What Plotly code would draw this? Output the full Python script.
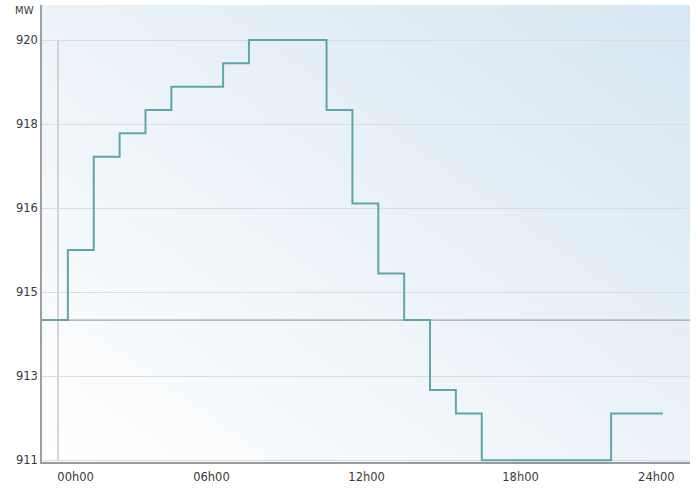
import base64
import plotly.graph_objects as go

# ---- data ----
hours = list(range(24))
mw = [914.0, 915.5, 917.5, 918.0, 918.5, 919.0, 919.0, 919.5, 920.0, 920.0,
      920.0, 918.5, 916.5, 915.0, 914.0, 912.5, 912.0, 911.0, 911.0, 911.0,
      911.0, 911.0, 912.0, 912.0]
x_tick_labels = ["00h00", "06h00", "12h00", "18h00", "24h00"]
x_tick_pos = [1.3, 6.55, 12.55, 18.5, 23.75]
y_tick_vals = [911.0, 912.8, 914.6, 916.4, 918.2, 920.0]
y_tick_labels = ["911", "913", "915", "916", "918", "920"]
ref_level = 914.0
cursor_hour = 0.62

# step line: close the last hour
xs = hours + [hours[-1] + 1]
ys = mw + [mw[-1]]

svg = ('<svg xmlns="http://www.w3.org/2000/svg" width="100" height="100" preserveAspectRatio="none">'
       '<defs><linearGradient id="g" x1="0" y1="1" x2="1" y2="0">'
       '<stop offset="0" stop-color="#ffffff"/><stop offset="0.45" stop-color="#eef4f9"/>'
       '<stop offset="1" stop-color="#d6e6f2"/></linearGradient></defs>'
       '<rect width="100" height="100" fill="url(#g)"/></svg>')
svg_uri = "data:image/svg+xml;base64," + base64.b64encode(svg.encode()).decode()

fig = go.Figure()
fig.add_trace(go.Scatter(x=xs, y=ys, mode="lines", line_shape="hv",
                         line=dict(color="#5ea7a8", width=2), hoverinfo="skip",
                         showlegend=False))

font = dict(family="DejaVu Sans, Verdana, sans-serif", size=11.5, color="#3a3a3a")

fig.update_layout(
    width=698, height=495,
    margin=dict(l=42, r=8, t=5, b=33),
    paper_bgcolor="white",
    plot_bgcolor="rgba(0,0,0,0)",
    font=font,
    images=[dict(source=svg_uri, xref="paper", yref="paper", x=0, y=1,
                 sizex=1, sizey=1, sizing="stretch", layer="below",
                 xanchor="left", yanchor="top")],
    xaxis=dict(range=[0, 25.05], tickvals=x_tick_pos, ticktext=x_tick_labels,
               showgrid=False, zeroline=False, showline=True, linecolor="#9a9a9a",
               linewidth=2, ticks="", tickfont=font, fixedrange=True, automargin=False,
               ticklabelstandoff=3),
    yaxis=dict(range=[910.96, 920.75], tickvals=y_tick_vals, ticktext=y_tick_labels,
               showgrid=True, gridcolor="#d9dde0", gridwidth=1, zeroline=False,
               showline=True, linecolor="#a0a0a0", linewidth=1.5, ticks="",
               tickfont=font, fixedrange=True, automargin=False),
    shapes=[
        dict(type="line", xref="paper", yref="y", x0=0, x1=1, y0=ref_level, y1=ref_level,
             line=dict(color="#8c8c8c", width=1), layer="below"),
        dict(type="line", xref="x", yref="y", x0=cursor_hour, x1=cursor_hour,
             y0=y_tick_vals[0], y1=y_tick_vals[-1],
             line=dict(color="#c8c8c8", width=1.5), layer="below"),
    ],
    annotations=[dict(text="MW", xref="paper", yref="paper", x=0, y=1,
                      xanchor="right", yanchor="top", xshift=-6, yshift=2,
                      showarrow=False, font=dict(family=font["family"], size=10, color="#3a3a3a"))],
)

fig.write_html("out.html", config={"displayModeBar": False},
               post_script="document.body.style.margin='0';")
